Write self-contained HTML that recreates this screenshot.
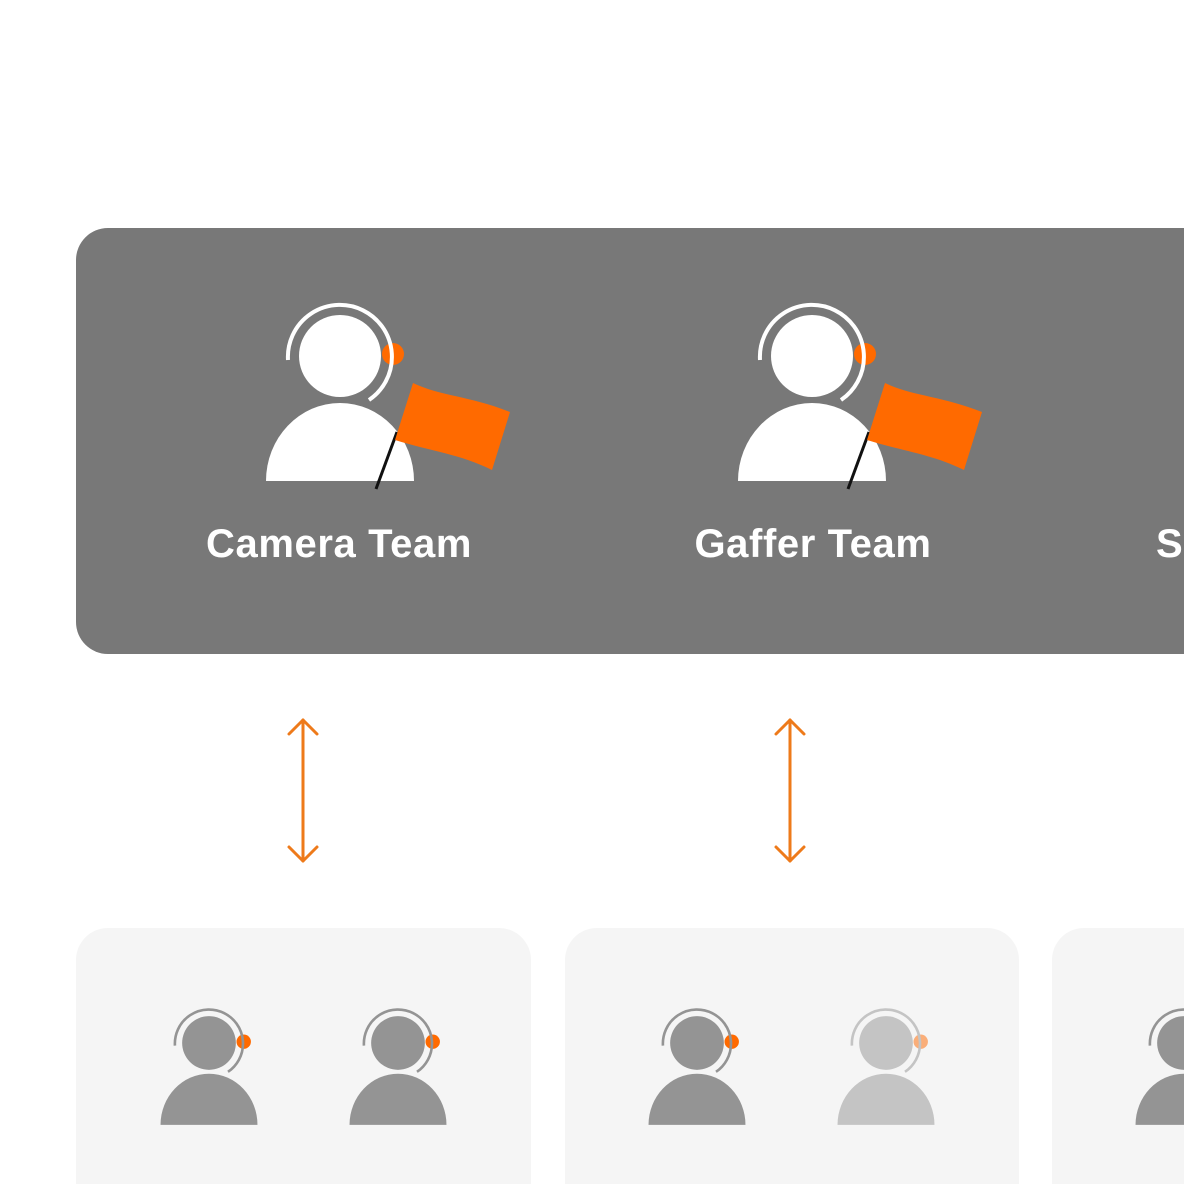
<!DOCTYPE html>
<html><head><style>
html,body{margin:0;padding:0;background:#fff;}
body{width:1184px;height:1184px;overflow:hidden;position:relative;font-family:"Liberation Sans",sans-serif;}
</style></head><body>
<svg width="1184" height="1184" viewBox="0 0 1184 1184" xmlns="http://www.w3.org/2000/svg" style="position:absolute;left:0;top:0">
<defs>
 <g id="p">
  <circle cx="53" cy="-2" r="11" fill="#ff6a00"/>
  <circle cx="0" cy="0" r="41" fill="currentColor"/>
  <path d="M -52 4 A 52 52 0 1 1 29 44" fill="none" stroke="currentColor" stroke-width="4"/>
  <path d="M -74 125 A 74 78 0 0 1 74 125 Z" fill="currentColor"/>
 </g>
 <g id="flag">
  <line x1="36" y1="133" x2="57" y2="76" stroke="#111" stroke-width="3"/>
  <path d="M73 27 C 100 40, 130 40, 170 56 L 152 114 C 120 98, 90 95, 55 84 Z" fill="#ff6a00"/>
 </g>
</defs>
<rect x="76" y="228" width="1160" height="426" rx="32" fill="#787878"/>
<use href="#p" x="340" y="356" style="color:#fff"/>
<use href="#flag" x="340" y="356"/>
<use href="#p" x="812" y="356" style="color:#fff"/>
<use href="#flag" x="812" y="356"/>
<g font-family="Liberation Sans, sans-serif" font-weight="bold" font-size="40" fill="#fff" letter-spacing="0.6">
<text x="339" y="557" text-anchor="middle">Camera Team</text>
<text x="813" y="557" text-anchor="middle">Gaffer Team</text>
<text x="1156" y="557">S</text>
</g>
<g stroke="#ee7a1a" stroke-width="3" fill="none" stroke-linecap="round" stroke-linejoin="round">
 <line x1="303" y1="720" x2="303" y2="861"/><polyline points="289,734 303,720 317,734"/><polyline points="289,847 303,861 317,847"/>
 <line x1="790" y1="720" x2="790" y2="861"/><polyline points="776,734 790,720 804,734"/><polyline points="776,847 790,861 804,847"/>
</g>
<rect x="76" y="928" width="455" height="300" rx="32" fill="#f5f5f5"/>
<rect x="565" y="928" width="454" height="300" rx="32" fill="#f5f5f5"/>
<rect x="1052" y="928" width="300" height="300" rx="32" fill="#f5f5f5"/>
<g style="color:#949494">
 <use href="#p" transform="translate(209,1043) scale(0.655)"/>
 <use href="#p" transform="translate(398,1043) scale(0.655)"/>
 <use href="#p" transform="translate(697,1043) scale(0.655)"/>
 <use href="#p" transform="translate(886,1043) scale(0.655)" opacity="0.5"/>
 <use href="#p" transform="translate(1184,1043) scale(0.655)"/>
</g>
</svg>
</body></html>
